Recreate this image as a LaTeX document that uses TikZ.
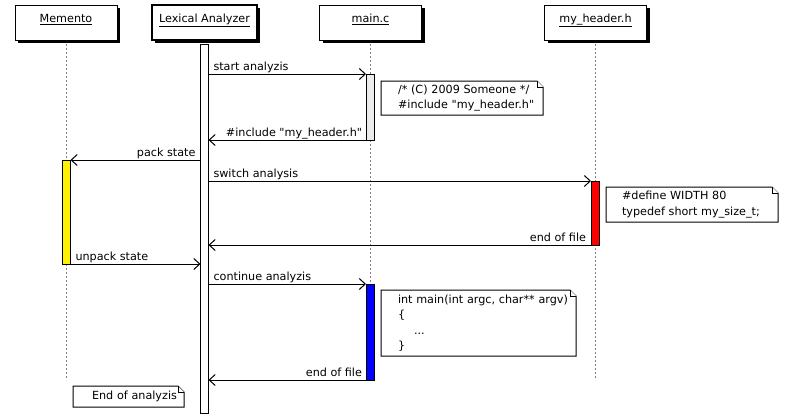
\documentclass[tikz,border=0pt]{standalone}
\usepackage{fontspec}
\setmainfont{DejaVu Sans}
\usetikzlibrary{arrows.meta,shadows,backgrounds,calc}
\newcommand{\dogear}[1]{%
  \draw[noteline] (#1.south west) -- (#1.north west) -- ($(#1.north east)+(-6,0)$) -- ($(#1.north east)+(0,6)$) -- (#1.south east) -- cycle;
  \draw[noteline] ($(#1.north east)+(-6,0)$) -- ($(#1.north east)+(-6,6)$) -- ($(#1.north east)+(0,6)$);}
\newcommand{\dq}{\textquotedbl}
\begin{document}
\begin{tikzpicture}[x=1pt,y=-1pt,
  every node/.style={font=\fontsize{11.2}{15.5}\selectfont},
  hdr/.style={draw, fill=white, line width=1pt, minimum width=102pt, minimum height=35pt,
    inner sep=0pt, outer sep=0pt, text height=8pt, text depth=8pt,
    drop shadow={shadow xshift=3pt, shadow yshift=-3pt, fill=black, opacity=1}},
  act/.style={draw, line width=1pt, minimum width=8pt, inner sep=0pt, outer sep=0pt, anchor=north},
  life/.style={draw=gray, line width=1pt, dash pattern=on 2pt off 2pt},
  msg/.style={line width=1pt, -{Straight Barb[length=6pt,width=11pt,line width=1pt]}},
  lbl/.style={inner sep=0pt, outer sep=0pt},
  note/.style={inner sep=0pt, outer sep=0pt, align=left, anchor=north west},
  noteline/.style={line width=1pt, fill=white}
]
\useasboundingbox (0,0) rectangle (795,418);

% headers
\node[hdr] (memento) at (66,22.5) {\underline{Memento}};
\node[hdr, line width=2pt, minimum width=105pt] (lexer) at (204.5,22.5) {\underline{Lexical Analyzer}};
\node[hdr] (mainc) at (370.5,22.5) {\underline{main.c}};
\node[hdr] (myhdr) at (595.5,22.5) {\underline{my\_header.h}};

% lifelines
\coordinate (bot) at (0,380);
\begin{scope}[on background layer]
  \fill[white] (0,0) rectangle (795,418);
  \draw[life] (memento.south) -- (memento.south |- bot);
  \draw[life] (mainc.south) -- (mainc.south |- bot);
  \draw[life] (myhdr.south) -- (myhdr.south |- bot);
\end{scope}

% activations
\node[act, fill=white, minimum height=369pt] (lexact) at (204.5,44) {};
\node[act, fill=gray!15, minimum height=66pt] (mainact) at (370,74) {};
\node[act, fill=yellow, minimum height=104pt] (memact) at (66.5,160) {};
\node[act, fill=red, minimum height=64pt] (hdract) at (595,181) {};
\node[act, fill=blue, minimum height=96pt] (blueact) at (370,284) {};

% messages
\draw[msg] (lexact.east |- mainact.north) -- (mainact.north west)
  node[lbl, pos=0, anchor=base west, xshift=5pt, yshift=4pt] {start analyzis};
\draw[msg] (mainact.south west) -- (lexact.east |- mainact.south)
  node[lbl, pos=0, anchor=base east, xshift=-4pt, yshift=4pt] {\#include \dq my\_header.h\dq};
\draw[msg] (lexact.west |- memact.north) -- (memact.north east)
  node[lbl, pos=0, anchor=base east, xshift=-5pt, yshift=4pt] {pack state};
\draw[msg] (lexact.east |- hdract.north) -- (hdract.north west)
  node[lbl, pos=0, anchor=base west, xshift=5pt, yshift=4pt] {switch analysis};
\draw[msg] (hdract.south west) -- (lexact.east |- hdract.south)
  node[lbl, pos=0, anchor=base east, xshift=-5pt, yshift=4pt] {end of file};
\draw[msg] (memact.south east) -- (lexact.west |- memact.south)
  node[lbl, pos=0, anchor=base west, xshift=5pt, yshift=4pt] {unpack state};
\draw[msg] (lexact.east |- blueact.north) -- (blueact.north west)
  node[lbl, pos=0, anchor=base west, xshift=5pt, yshift=4pt] {continue analyzis};
\draw[msg] (blueact.south west) -- (lexact.east |- blueact.south)
  node[lbl, pos=0, anchor=base east, xshift=-4pt, yshift=4pt] {end of file};

% notes
\node[note, text width=162pt, minimum height=34pt] (n1) at (381,81)
  {\hspace*{17pt}/* (C) 2009 Someone */\\\hspace*{17pt}\#include \dq my\_header.h\dq};
\node[note, text width=172pt, minimum height=35pt] (n2) at (606,187)
  {\hspace*{16pt}\#define WIDTH 80\\\hspace*{16pt}typedef short my\_size\_t;};
\node[note, text width=195pt, minimum height=66pt] (n3) at (381,290)
  {\hspace*{17pt}int main(int argc, char** argv)\\\hspace*{17pt}\{\\\hspace*{33pt}...\\\hspace*{17pt}\}};
\node[note, text width=111pt, minimum height=21pt] (n4) at (73,386)
  {\hspace*{19pt}End of analyzis};
\begin{scope}[on background layer]
  \dogear{n1}\dogear{n2}\dogear{n3}\dogear{n4}
\end{scope}
\end{tikzpicture}
\end{document}
